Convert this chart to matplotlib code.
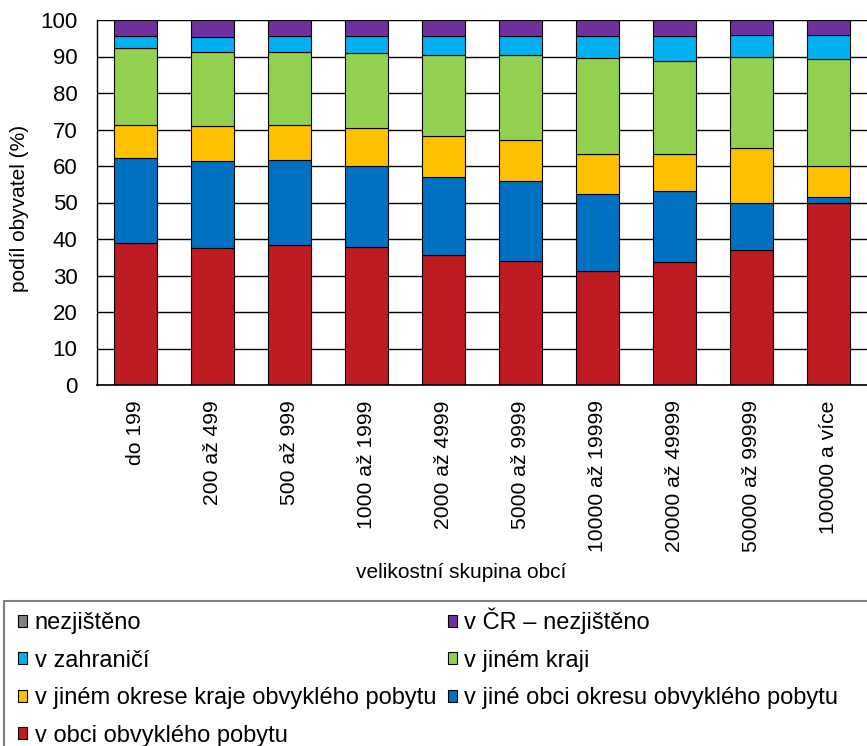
import matplotlib.pyplot as plt
from matplotlib.patches import Rectangle
import numpy as np

plt.rcParams['font.family'] = ['Liberation Sans', 'DejaVu Sans']

skupiny = ['do 199', '200 až 499', '500 až 999', '1000 až 1999', '2000 až 4999',
           '5000 až 9999', '10000 až 19999', '20000 až 49999', '50000 až 99999',
           '100000 a více']

v_obci = [38.8, 37.6, 38.4, 37.8, 35.5, 34.0, 31.1, 33.8, 37.0, 50.0]
v_jine_obci = [23.4, 23.8, 23.2, 22.1, 21.5, 21.9, 21.3, 19.4, 13.0, 1.4]
v_jinem_okrese = [9.1, 9.6, 9.5, 10.5, 11.2, 11.2, 10.8, 10.0, 14.9, 8.6]
v_jinem_kraji = [21.1, 20.3, 20.2, 20.6, 22.1, 23.2, 26.3, 25.7, 24.9, 29.3]
v_zahranici = [3.1, 4.0, 4.2, 4.5, 5.2, 5.2, 6.0, 6.8, 6.1, 6.6]
v_cr_nezjisteno = [4.5, 4.7, 4.5, 4.5, 4.5, 4.5, 4.5, 4.3, 4.1, 4.1]
nezjisteno = [0, 0, 0, 0, 0, 0, 0, 0, 0, 0]

serie = [
    ('v obci obvyklého pobytu', v_obci, '#BE1B22'),
    ('v jiné obci okresu obvyklého pobytu', v_jine_obci, '#0070C0'),
    ('v jiném okrese kraje obvyklého pobytu', v_jinem_okrese, '#FFC000'),
    ('v jiném kraji', v_jinem_kraji, '#92D050'),
    ('v zahraničí', v_zahranici, '#00B0F0'),
    ('v ČR – nezjištěno', v_cr_nezjisteno, '#7030A0'),
    ('nezjištěno', nezjisteno, '#808080'),
]

fig = plt.figure(figsize=(8.67, 7.46), dpi=100)
ax = fig.add_axes([97 / 867, 1 - 385 / 746, 770 / 867, 365 / 746])

x = np.arange(len(skupiny))
spodek = np.zeros(len(skupiny))
handles = {}
for nazev, hodnoty, barva in serie:
    b = ax.bar(x, hodnoty, 0.56, bottom=spodek, color=barva,
               edgecolor='black', linewidth=0.8, label=nazev)
    handles[nazev] = b
    spodek = spodek + np.array(hodnoty)

ax.set_xlim(-0.5, 9.5)
ax.set_ylim(0, 100)
ax.set_yticks(range(0, 101, 10))
ax.set_axisbelow(True)
ax.yaxis.grid(True, color='black', linewidth=1)
ax.spines['right'].set_visible(False)
ax.spines['top'].set_visible(False)
ax.spines['left'].set_linewidth(1)
ax.spines['bottom'].set_linewidth(1.2)

ax.set_xticks(x)
ax.set_xticklabels(skupiny, rotation=90, fontsize=15.2)
ax.tick_params(axis='x', length=0, pad=11)
ax.tick_params(axis='y', length=0, pad=14, labelsize=16)

fig.text(20 / 867, 1 - 208 / 746, 'podíl obyvatel (%)', rotation=90,
         fontsize=15, ha='center', va='center')
fig.text(461 / 867, 1 - 573 / 746, 'velikostní skupina obcí',
         fontsize=15, ha='center', va='center')

# ramecek legendy presahuje okraj obrazku
fig.patches.append(Rectangle((4 / 867, -0.1), 1.0, 0.1 + (746 - 601) / 746,
                             transform=fig.transFigure, fill=False,
                             edgecolor='#808080', linewidth=1.5))

poradi = ['nezjištěno', 'v zahraničí', 'v jiném okrese kraje obvyklého pobytu',
          'v obci obvyklého pobytu', 'v ČR – nezjištěno', 'v jiném kraji',
          'v jiné obci okresu obvyklého pobytu']
leg = fig.legend([handles[n] for n in poradi], poradi, ncol=2,
                 loc='upper left', bbox_to_anchor=(18 / 867, 1 - 608 / 746),
                 frameon=False, fontsize=17, handlelength=0.4,
                 handleheight=0.4, handletextpad=0.3, columnspacing=0.5,
                 labelspacing=0.65, borderpad=0, borderaxespad=0)

fig.savefig('out.png', dpi=100)
